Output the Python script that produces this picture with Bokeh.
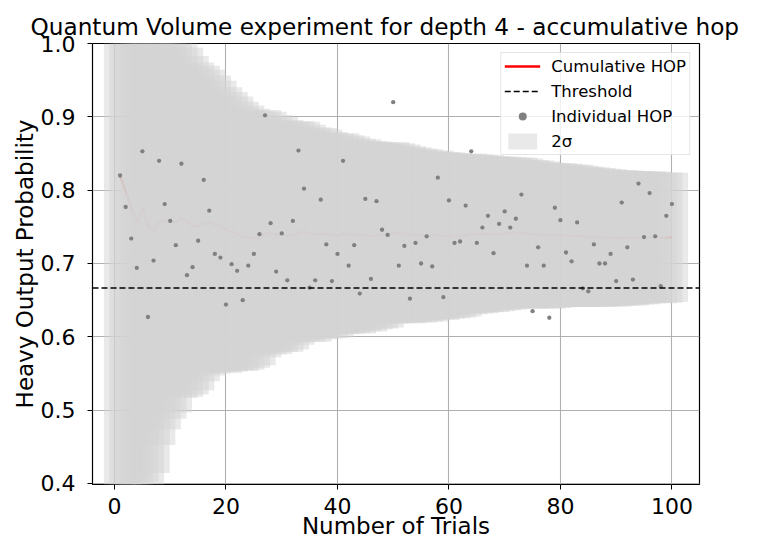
import numpy as np
from bokeh.plotting import figure
from bokeh.models import (Range1d, FixedTicker, PrintfTickFormatter,
                          Legend, LegendItem, ColumnDataSource)
from bokeh.embed import file_html
from bokeh.resources import INLINE

# ---- data ----
trials = list(range(1, 101))
hop = [
    0.820, 0.777, 0.734, 0.694, 0.853, 0.627, 0.704, 0.840, 0.781, 0.758,
    0.725, 0.836, 0.684, 0.695, 0.731, 0.814, 0.772, 0.713, 0.708, 0.644,
    0.699, 0.690, 0.650, 0.697, 0.713, 0.740, 0.902, 0.755, 0.689, 0.741,
    0.677, 0.758, 0.854, 0.802, 0.667, 0.677, 0.787, 0.726, 0.676, 0.713,
    0.840, 0.697, 0.725, 0.659, 0.788, 0.679, 0.785, 0.746, 0.739, 0.920,
    0.697, 0.724, 0.652, 0.728, 0.700, 0.737, 0.696, 0.817, 0.654, 0.786,
    0.728, 0.730, 0.779, 0.853, 0.728, 0.749, 0.765, 0.714, 0.754, 0.771,
    0.749, 0.761, 0.794, 0.697, 0.635, 0.722, 0.697, 0.626, 0.776, 0.759,
    0.715, 0.703, 0.756, 0.666, 0.662, 0.726, 0.700, 0.700, 0.713, 0.676,
    0.783, 0.722, 0.678, 0.809, 0.736, 0.796, 0.737, 0.669, 0.765, 0.781,
]
threshold = 2 / 3
x_ticks = [0, 20, 40, 60, 80, 100]
y_ticks = [0.4, 0.5, 0.6, 0.7, 0.8, 0.9, 1.0]
x_lim = (-3.95, 104.95)
y_lim = (0.3986, 1.0)

# cumulative HOP and its 2-sigma band (as in the Quantum Volume analysis)
t = np.array(trials, dtype=float)
h = np.array(hop)
cum = np.cumsum(h) / t
two_sigma = 2 * np.sqrt(cum * (1 - cum) / t)

src = ColumnDataSource(dict(t=t, hop=h, cum=cum,
                            lo=cum - two_sigma, hi=cum + two_sigma))
thr_src = ColumnDataSource(dict(x=list(x_lim), y=[threshold, threshold]))

FONT = "DejaVu Sans"

p = figure(width=744, height=542, output_backend="svg", toolbar_location=None,
           x_range=Range1d(*x_lim), y_range=Range1d(*y_lim),
           min_border_left=92, min_border_right=45,
           min_border_top=43, min_border_bottom=58,
           title="Quantum Volume experiment for depth 4 - accumulative hop")
p.background_fill_color = "white"
p.border_fill_color = "white"
p.outline_line_color = "black"
p.outline_line_width = 1.2

p.title.text_font = FONT
p.title.text_font_size = "23.2px"
p.title.text_font_style = "normal"
p.title.text_color = "black"
p.title.align = "left"
p.title.offset = -62
p.title.standoff = 8

for ax in (p.xaxis, p.yaxis):
    ax.axis_line_color = None
    ax.major_tick_line_color = "black"
    ax.major_tick_out = 5
    ax.major_tick_in = 0
    ax.minor_tick_line_color = None
    ax.major_label_text_font = FONT
    ax.major_label_text_font_size = "22px"
    ax.major_label_text_color = "black"
    ax.axis_label_text_font = FONT
    ax.axis_label_text_font_size = "23px"
    ax.axis_label_text_font_style = "normal"
    ax.axis_label_text_color = "black"

p.xaxis.ticker = FixedTicker(ticks=x_ticks)
p.yaxis.ticker = FixedTicker(ticks=y_ticks)
p.yaxis.formatter = PrintfTickFormatter(format="%.1f")
p.xaxis.axis_label = "Number of Trials"
p.yaxis.axis_label = "Heavy Output Probability"
p.xaxis.major_label_standoff = 8
p.yaxis.major_label_standoff = 12
p.xaxis.axis_label_standoff = -4
p.yaxis.axis_label_standoff = 0

p.xgrid.ticker = FixedTicker(ticks=x_ticks)
p.ygrid.ticker = FixedTicker(ticks=y_ticks)
for g in (p.xgrid, p.ygrid):
    g.grid_line_color = "#b0b0b0"
    g.grid_line_width = 1.1

r_cum = p.line("t", "cum", source=src, line_color="red", line_width=2.4)
r_band = p.vbar(x="t", width=5.8, bottom="lo", top="hi", source=src,
                fill_color="lightgray", fill_alpha=0.5, line_color=None)
r_pts = p.scatter("t", "hop", source=src, size=4.3,
                  fill_color="gray", line_color=None)
r_thr = p.line("x", "y", source=thr_src, line_color="black",
               line_dash="6 3", line_width=1.4)

legend = Legend(items=[
    LegendItem(label="Cumulative HOP", renderers=[r_cum]),
    LegendItem(label="Threshold", renderers=[r_thr]),
    LegendItem(label="Individual HOP", renderers=[r_pts]),
    LegendItem(label="2σ", renderers=[r_band]),
], location="top_right")
legend.margin = 9
legend.padding = 3
legend.spacing = 5
legend.glyph_width = 36
legend.glyph_height = 20
legend.label_height = 20
legend.label_standoff = 11
legend.label_text_font = FONT
legend.label_text_font_size = "16.5px"
legend.label_text_color = "black"
legend.border_line_color = "#cccccc"
legend.border_line_width = 1
legend.background_fill_color = "white"
legend.background_fill_alpha = 0.8
p.add_layout(legend)

open("out.html", "w").write(file_html(p, INLINE))
